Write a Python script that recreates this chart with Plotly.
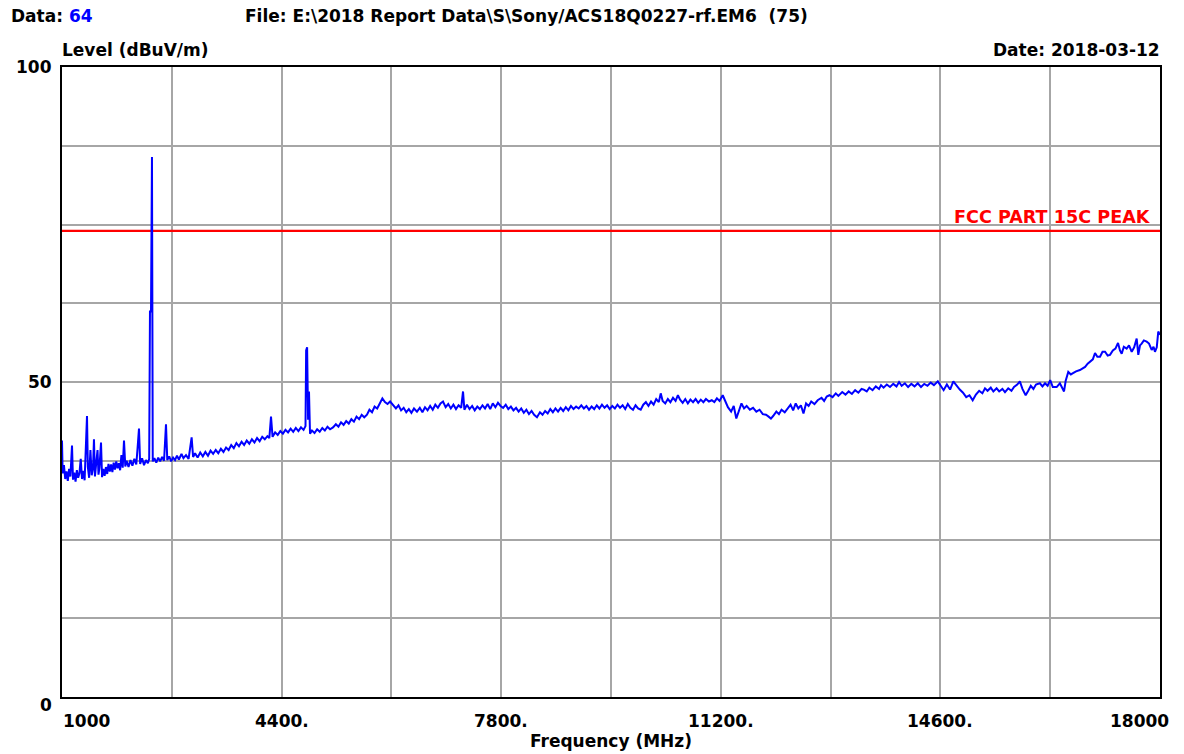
import plotly.graph_objects as go

# ---------------- data ----------------
freq_mhz = [
    1000, 1010, 1030, 1050, 1070, 1090, 1110, 1130, 1155, 1170,
    1190, 1210, 1230, 1250, 1270, 1290, 1310, 1330, 1350, 1370,
    1387, 1400, 1420, 1440, 1460, 1480, 1495, 1510, 1530, 1550,
    1565, 1580, 1604, 1620, 1640, 1660, 1680, 1700, 1720, 1740,
    1760, 1780, 1800, 1820, 1840, 1860, 1880, 1900, 1920, 1940,
    1960, 1980, 2000, 2030, 2060, 2090, 2120, 2150, 2170, 2192,
    2210, 2240, 2270, 2300, 2330, 2350, 2362, 2378, 2393, 2405,
    2430, 2460, 2490, 2520, 2550, 2580, 2610, 2630, 2660, 2690,
    2720, 2750, 2780, 2810, 2850, 2880, 2920, 2960, 3007, 3030,
    3060, 3100, 3140, 3180, 3220, 3260, 3300, 3340, 3380, 3420,
    3460, 3500, 3540, 3580, 3620, 3660, 3700, 3740, 3780, 3820,
    3860, 3900, 3940, 3980, 4020, 4060, 4100, 4140, 4180, 4210,
    4236, 4260, 4300, 4340, 4380, 4420, 4460, 4500, 4540, 4580,
    4620, 4660, 4700, 4740, 4770, 4780, 4795, 4810, 4824, 4840,
    4870, 4910, 4950, 4990, 5030, 5070, 5110, 5150, 5196, 5240,
    5280, 5320, 5360, 5400, 5440, 5480, 5520, 5560, 5600, 5640,
    5680, 5722, 5760, 5800, 5840, 5880, 5920, 5960, 6000, 6040,
    6080, 6125, 6170, 6210, 6250, 6290, 6330, 6370, 6410, 6450,
    6496, 6540, 6580, 6620, 6660, 6700, 6740, 6780, 6820, 6860,
    6899, 6940, 6980, 7020, 7060, 7100, 7140, 7180, 7209, 7230,
    7270, 7310, 7350, 7390, 7430, 7470, 7510, 7550, 7590, 7630,
    7670, 7710, 7750, 7790, 7830, 7870, 7910, 7950, 7990, 8030,
    8070, 8110, 8150, 8190, 8230, 8270, 8310, 8354, 8400, 8440,
    8480, 8520, 8560, 8600, 8640, 8680, 8720, 8760, 8800, 8840,
    8880, 8920, 8960, 9000, 9040, 9080, 9120, 9160, 9200, 9240,
    9280, 9320, 9360, 9400, 9440, 9480, 9520, 9560, 9600, 9640,
    9680, 9720, 9760, 9800, 9841, 9880, 9920, 9960, 10000, 10040,
    10080, 10120, 10160, 10200, 10240, 10270, 10300, 10340, 10380, 10420,
    10460, 10500, 10536, 10570, 10610, 10650, 10690, 10730, 10770, 10810,
    10850, 10890, 10930, 10970, 11016, 11060, 11100, 11140, 11180, 11230,
    11270, 11310, 11360, 11400, 11440, 11480, 11520, 11560, 11600, 11650,
    11700, 11750, 11800, 11850, 11900, 11940, 11976, 12010, 12060, 12100,
    12140, 12190, 12241, 12280, 12320, 12360, 12400, 12440, 12480, 12520,
    12560, 12600, 12650, 12700, 12760, 12800, 12840, 12882, 12930, 12980,
    13020, 13080, 13130, 13180, 13230, 13280, 13330, 13380, 13414, 13460,
    13500, 13550, 13600, 13650, 13681, 13720, 13770, 13820, 13870, 13920,
    13960, 14000, 14050, 14100, 14150, 14200, 14250, 14300, 14350, 14400,
    14450, 14500, 14560, 14600, 14650, 14700, 14750, 14800, 14850, 14900,
    14950, 15000, 15050, 15100, 15150, 15200, 15250, 15290, 15330, 15380,
    15420, 15470, 15510, 15560, 15600, 15650, 15700, 15740, 15790, 15830,
    15870, 15920, 15960, 16000, 16040, 16080, 16140, 16180, 16220, 16260,
    16300, 16340, 16400, 16450, 16514, 16540, 16580, 16620, 16653, 16700,
    16760, 16800, 16840, 16880, 16916, 16960, 16994, 17030, 17071, 17110,
    17149, 17190, 17226, 17270, 17310, 17350, 17380, 17407, 17440, 17484,
    17520, 17562, 17600, 17639, 17664, 17690, 17716, 17750, 17794, 17830,
    17871, 17900, 17922, 17950, 17973, 18000,
]

level_dbuv = [
    40.7, 35.5, 36.8, 34.6, 35.8, 34.3, 36.2, 35.0, 39.9, 34.5,
    35.6, 34.2, 36.0, 34.8, 35.5, 37.8, 34.6, 35.9, 34.4, 38.6,
    44.6, 36.5, 34.8, 39.2, 35.2, 36.3, 40.9, 35.0, 37.5, 39.2,
    35.3, 36.4, 40.4, 34.9, 36.2, 35.1, 36.5, 35.4, 37.0, 35.8,
    36.9, 35.7, 37.2, 36.1, 37.4, 36.3, 37.1, 36.0, 38.4, 36.4,
    40.7, 36.6, 37.5, 36.5, 37.6, 36.7, 37.8, 36.9, 39.5, 42.6,
    37.0, 37.9, 36.8, 37.6, 37.1, 37.8, 61.2, 61.2, 85.7, 37.4,
    37.9, 37.2, 38.0, 37.4, 38.1, 37.5, 43.3, 37.6, 38.2, 37.4,
    38.0, 37.6, 38.3, 37.7, 38.6, 37.9, 38.4, 37.8, 41.2, 38.1,
    38.7, 38.0, 38.8, 38.2, 38.9, 38.3, 39.1, 38.6, 39.2, 38.7,
    39.4, 38.9, 39.6, 39.2, 40.0, 39.5, 40.3, 39.8, 40.5, 40.0,
    40.7, 40.2, 40.9, 40.4, 41.1, 40.6, 41.3, 40.9, 41.4, 41.1,
    44.5, 41.3, 42.0, 41.6, 42.2, 41.8, 42.4, 42.0, 42.6, 42.1,
    42.7, 42.2, 42.8, 42.4, 43.0, 55.0, 55.5, 44.0, 48.5, 41.8,
    42.3, 41.9, 42.5, 42.1, 42.7, 42.3, 42.9, 42.5, 42.8, 43.3,
    42.9, 43.6, 43.2, 43.8, 43.4, 44.1, 43.7, 44.5, 44.1, 44.8,
    44.4, 44.8, 45.6, 45.2, 46.1, 45.8, 46.6, 47.4, 46.8, 46.5,
    46.9, 46.4, 45.8, 46.3, 45.5, 45.9, 45.2, 45.7, 45.1, 45.8,
    45.3, 45.9, 45.2, 46.0, 45.5, 46.2, 45.6, 46.4, 45.9, 46.6,
    46.9, 46.0, 46.5, 45.8, 46.4, 45.7, 46.3, 45.9, 48.5, 45.6,
    46.4, 45.7, 46.2, 45.5, 46.1, 45.7, 46.3, 45.8, 46.5, 45.7,
    46.6, 46.0, 46.7, 46.2, 45.9, 46.4, 45.7, 46.1, 45.5, 45.9,
    45.3, 45.8, 45.1, 45.6, 44.9, 45.4, 44.8, 44.4, 45.2, 44.8,
    45.4, 45.0, 45.7, 45.2, 45.8, 45.3, 45.9, 45.4, 46.0, 45.5,
    46.2, 45.7, 46.1, 45.8, 46.3, 45.8, 46.2, 45.6, 46.1, 45.7,
    46.3, 45.8, 46.4, 45.9, 46.3, 45.7, 46.2, 45.8, 46.4, 45.9,
    46.3, 45.7, 46.5, 45.9, 45.6, 46.3, 45.8, 45.6, 46.4, 46.8,
    46.2, 46.9, 46.4, 47.3, 46.8, 48.2, 47.0, 46.6, 47.3, 46.8,
    47.5, 47.0, 47.9, 47.2, 46.7, 47.3, 46.6, 47.2, 46.8, 47.3,
    46.7, 47.2, 46.8, 47.3, 46.9, 47.1, 46.8, 47.4, 47.0, 47.9,
    46.9, 46.0, 45.3, 46.2, 44.2, 45.5, 46.6, 45.8, 46.2, 45.6,
    45.9, 45.3, 45.6, 44.9, 44.8, 44.5, 44.2, 44.6, 45.3, 44.9,
    45.6, 45.2, 45.9, 46.4, 45.5, 46.6, 45.8, 46.3, 45.0, 46.6,
    46.2, 46.9, 46.5, 47.1, 47.5, 47.0, 47.7, 47.9, 47.6, 48.2,
    47.8, 48.4, 48.0, 48.5, 48.1, 48.7, 48.3, 48.9, 48.8, 48.5,
    49.1, 48.7, 49.3, 48.9, 49.5, 49.1, 49.6, 49.2, 49.7, 49.3,
    50.0, 49.4, 49.8, 49.2, 49.7, 49.3, 49.8, 49.2, 49.7, 49.4,
    49.9, 49.5, 50.1, 49.4, 48.7, 49.6, 48.8, 50.1, 49.4, 48.8,
    48.3, 47.6, 47.9, 47.1, 48.0, 48.6, 48.2, 49.0, 48.6, 49.1,
    48.5, 49.0, 48.5, 48.9, 48.4, 49.0, 48.6, 49.2, 49.6, 50.1,
    48.9, 47.9, 48.6, 49.4, 48.9, 49.6, 49.8, 49.3, 49.8, 49.4,
    50.3, 49.2, 49.2, 49.8, 48.5, 50.2, 51.6, 51.2, 51.4, 51.7,
    51.9, 52.1, 52.4, 52.9, 53.2, 53.6, 54.6, 54.0, 54.0, 54.8,
    54.8, 54.2, 54.3, 55.0, 55.3, 56.2, 55.0, 54.5, 55.6, 55.3,
    55.8, 54.8, 55.5, 56.9, 54.3, 55.8, 56.1, 56.6, 56.4, 56.1,
    55.1, 55.6, 54.8, 55.5, 58.0, 57.5,
]

limit_freq = [1000, 18000]
limit_level = [74, 74]
limit_name = "FCC PART 15C PEAK"

x_range = [1000, 18000]
y_range = [0, 100]
x_grid_step = 1700
y_grid_step = 12.5
x_tick_vals = [1000, 4400, 7800, 11200, 14600, 18000]
x_tick_text = ["1000", "4400.", "7800.", "11200.", "14600.", "18000"]
y_tick_vals = [0, 50, 100]
y_tick_text = ["0", "50", "100"]

data_number = "64"
file_text = "File: E:\\2018 Report Data\\S\\Sony/ACS18Q0227-rf.EM6&nbsp;&nbsp;(75)"
date_text = "Date: 2018-03-12"
y_title = "Level (dBuV/m)"
x_title = "Frequency (MHz)"

# ---------------- figure ----------------
FONT = "DejaVu Sans"
FS = 17

fig = go.Figure()
fig.add_trace(go.Scatter(x=limit_freq, y=limit_level, mode="lines",
                         line=dict(color="#ff0000", width=2.2),
                         hoverinfo="skip", showlegend=False))
fig.add_trace(go.Scatter(x=freq_mhz, y=level_dbuv, mode="lines",
                         line=dict(color="#0000ff", width=2),
                         showlegend=False))

# the page body margin is removed below, so the figure fills the window
W, H = 1184, 754
PL, PT, PR, PB = 62, 67, 1160, 697          # plot-area edges in page pixels
L, T = PL, PT
R, B = W - PR, H - PB
pw, ph = PR - PL, PB - PT


def px(xp):
    return (xp - PL) / pw


def py(yp):
    return (PB - yp) / ph


ann = []
ann.append(dict(text="<b>Data: <span style='color:#0000ff'>" + data_number + "</span></b>",
                xref="paper", yref="paper", x=px(9), y=py(16),
                xanchor="left", yanchor="middle", showarrow=False))
ann.append(dict(text="<b>" + file_text + "</b>",
                xref="paper", yref="paper", x=px(243), y=py(16),
                xanchor="left", yanchor="middle", showarrow=False))
ann.append(dict(text="<b>" + y_title + "</b>",
                xref="paper", yref="paper", x=px(60), y=py(50),
                xanchor="left", yanchor="middle", showarrow=False))
ann.append(dict(text="<b>" + date_text + "</b>",
                xref="paper", yref="paper", x=px(1162), y=py(50),
                xanchor="right", yanchor="middle", showarrow=False))
ann.append(dict(text="<b>" + x_title + "</b>",
                xref="paper", yref="paper", x=px(611), y=py(741),
                xanchor="center", yanchor="middle", showarrow=False))
ann.append(dict(text="<b>" + limit_name + "</b>",
                xref="x", yref="y", x=limit_freq[-1], y=limit_level[-1],
                xanchor="right", yanchor="bottom", xshift=-7, yshift=2,
                showarrow=False, font=dict(color="#ff0000", family=FONT, size=17.6)))

for v, t in zip(x_tick_vals, x_tick_text):
    if v == x_range[0]:
        anchor, shift = "left", -1
    elif v == x_range[1]:
        anchor, shift = "right", 11
    else:
        anchor, shift = "center", 0
    ann.append(dict(text="<b>" + t + "</b>", xref="x", yref="paper", x=v, y=py(721),
                    xanchor=anchor, yanchor="middle", xshift=shift, showarrow=False))

y_label_pos = {0: 705, 50: 382, 100: 67}
for v, t in zip(y_tick_vals, y_tick_text):
    ann.append(dict(text="<b>" + t + "</b>", xref="paper", yref="paper",
                    x=px(54), y=py(y_label_pos[v]), xanchor="right", yanchor="middle",
                    showarrow=False))

fig.update_layout(
    width=W, height=H,
    margin=dict(l=L, r=R, t=T, b=B, pad=0),
    paper_bgcolor="white", plot_bgcolor="white",
    font=dict(family=FONT, size=FS, color="black"),
    annotations=ann,
    showlegend=False,
)
fig.update_xaxes(range=x_range, tick0=x_range[0], dtick=x_grid_step,
                 showgrid=True, gridcolor="#a6a6a6", gridwidth=2,
                 showticklabels=False, ticks="", zeroline=False,
                 showline=True, mirror=True, linecolor="black", linewidth=2)
fig.update_yaxes(range=y_range, tick0=0, dtick=y_grid_step,
                 showgrid=True, gridcolor="#a6a6a6", gridwidth=2,
                 showticklabels=False, ticks="", zeroline=False,
                 showline=True, mirror=True, linecolor="black", linewidth=2)

fig.write_html(
    "out.html",
    config={"displayModeBar": False},
    post_script="document.body.style.margin='0px';document.body.style.overflow='hidden';",
)
